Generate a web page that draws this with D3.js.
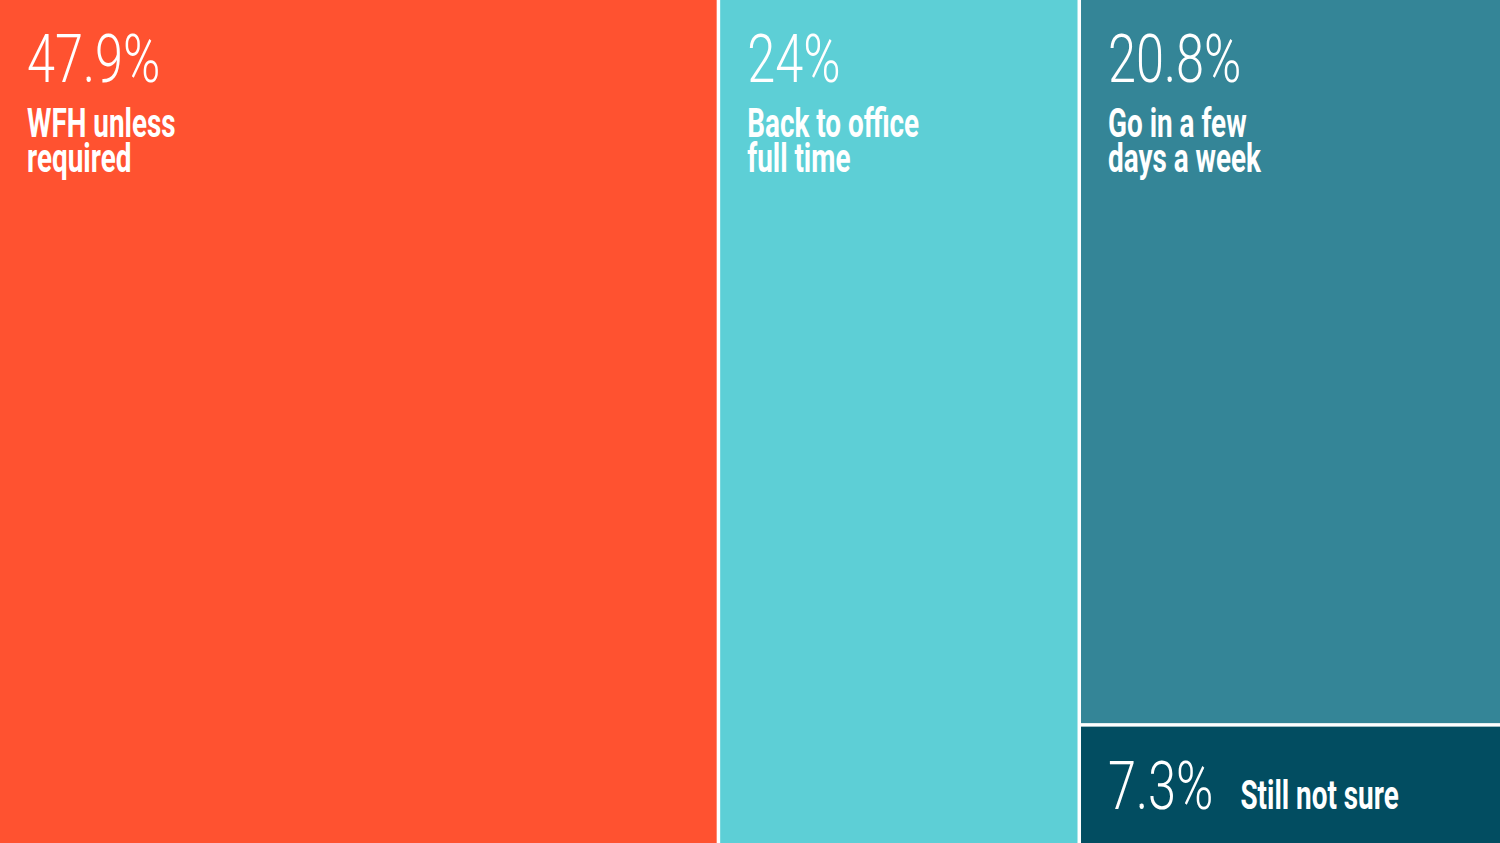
<!DOCTYPE html>
<html>
<head>
<meta charset="utf-8">
<script src="https://cdn.jsdelivr.net/npm/d3@7"></script>
<style>
  html, body { margin: 0; padding: 0; background: #fff; overflow: hidden; }
  .pct { font-family: Roboto, sans-serif; font-weight: 300; font-size: 66px; fill: #fff; }
  .lbl { font-family: Roboto, sans-serif; font-weight: 700; font-size: 41px; fill: #fff; }
</style>
</head>
<body>
<svg id="chart"></svg>
<script>
var W = 1500, H = 843;

var names = ["WFH unless required", "Back to office full time", "Go in a few days a week", "Still not sure"];
var lines = [["WFH unless", "required"], ["Back to office", "full time"], ["Go in a few", "days a week"], ["Still not sure"]];
var shares = [47.9, 24, 20.8, 7.3];
var columns = [0, 1, 2, 2];   // which column each answer sits in
var colors = ["#ff5230", "#5dcfd6", "#348597", "#024d61"];

// squeeze Roboto towards a condensed face
var PCT_SX = 0.765, LBL_SX = 0.68;

var items = names.map(function(n, i) {
  return { name: n, lines: lines[i], value: shares[i], color: colors[i], col: columns[i] };
});

var tree = {
  children: d3.groups(items, function(d) { return d.col; }).map(function(g) {
    return g[1].length === 1 ? g[1][0] : { children: g[1] };
  })
};

// plain squarified layout, only used for where the shared column gets cut
var flat = d3.treemap().size([W, H]).tile(d3.treemapSquarify)(
  d3.hierarchy({ children: items }).sum(function(d) { return d.value; }));

function tile(node, x0, y0, x1, y1) {
  if (node.depth === 0) return d3.treemapDice(node, x0, y0, x1, y1);
  var last = node.children[node.children.length - 1];
  var cut = flat.leaves().find(function(l) { return l.data === last.data; }).y0;
  node.children.forEach(function(c, i) {
    c.x0 = x0; c.x1 = x1;
    c.y0 = i ? cut : y0;
    c.y1 = i ? y1 : cut;
  });
}

var root = d3.treemap().size([W, H]).paddingInner(3.5).tile(tile)(
  d3.hierarchy(tree).sum(function(d) { return d.value; }));

var svg = d3.select("#chart").attr("width", W).attr("height", H);

var cell = svg.selectAll("g.cell")
  .data(root.leaves())
  .join("g")
  .attr("class", "cell")
  .attr("transform", function(d) { return "translate(" + d.x0 + "," + d.y0 + ")"; });

cell.append("rect")
  .attr("width", function(d) { return d.x1 - d.x0; })
  .attr("height", function(d) { return d.y1 - d.y0; })
  .attr("fill", function(d) { return d.data.color; });

cell.each(function(d) {
  var g = d3.select(this);
  var pct = g.append("text")
    .attr("class", "pct")
    .attr("transform", "translate(27,82) scale(" + PCT_SX + ",1)")
    .text(d.data.value + "%");

  if (d.y1 - d.y0 < 200) {
    // short box: label goes beside the number
    var w = pct.node().getComputedTextLength() * PCT_SX;
    g.append("text")
      .attr("class", "lbl")
      .attr("transform", "translate(" + (27 + w + 27) + ",82) scale(" + LBL_SX + ",1)")
      .text(d.data.lines.join(" "));
  } else {
    g.append("text")
      .attr("class", "lbl")
      .attr("transform", "translate(27,137) scale(" + LBL_SX + ",1)")
      .selectAll("tspan")
      .data(d.data.lines)
      .join("tspan")
      .attr("x", 0)
      .attr("dy", function(t, i) { return i ? 35 : 0; })
      .text(function(t) { return t; });
  }
});
</script>
</body>
</html>
